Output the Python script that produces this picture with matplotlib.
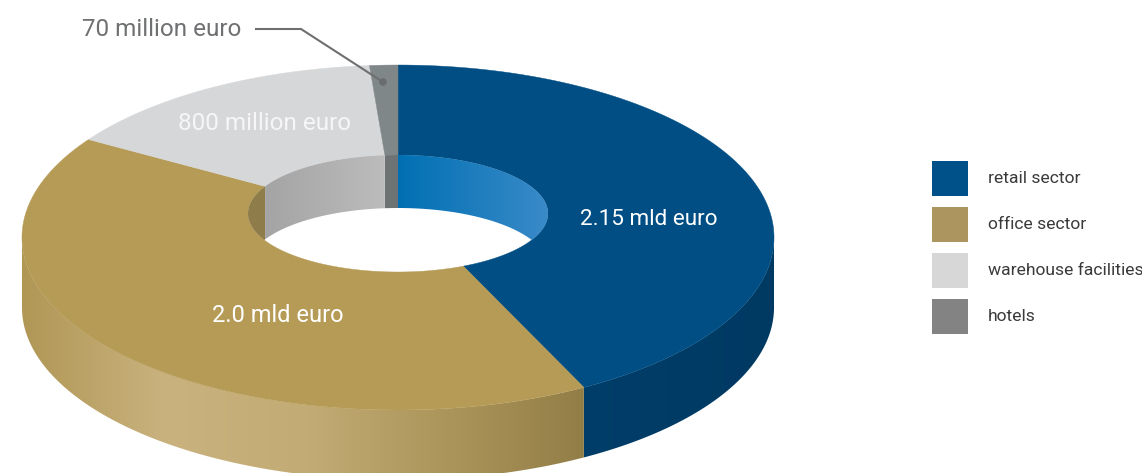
import numpy as np
import matplotlib
matplotlib.use("Agg")
import matplotlib.pyplot as plt
from matplotlib.colors import LinearSegmentedColormap
from matplotlib.patches import Polygon, Rectangle, Circle

categories = ["retail sector", "office sector", "warehouse facilities", "hotels"]
values = [2.15, 2.0, 0.8, 0.07]                 # mld euro
value_labels = ["2.15 mld euro", "2.0 mld euro", "800 million euro", "70 million euro"]
top_colors = ["#004e84", "#b69b56", "#d6d7d9", "#7f8788"]
legend_colors = ["#00508a", "#ad9560", "#d7d7d7", "#838383"]

W, H = 1142, 473
CX = 398
CY = 213                                        # where the ring's radial lines meet
SCALE_X, SCALE_Y, PERSP = 372.2, 169.0, -0.142  # perspective of the outer rim
HOLE_CY, HOLE_RX, HOLE_RY = 213.5, 150, 58.5
OUTER_DEPTH = 70
HOLE_DEPTH = 53

plt.rcParams["font.family"] = ["Roboto", "DejaVu Sans"]

fig = plt.figure(figsize=(W / 100, H / 100), dpi=100)
ax = fig.add_axes([0, 0, 1, 1])


def outer_rim(theta):
    # theta in radians, clockwise from the top of the ring
    x = np.sin(theta)
    y = -np.cos(theta)
    d = 1 + PERSP * y
    return CX + SCALE_X * x / d, CY + SCALE_Y * y / d


def hole_rim(theta):
    return CX + HOLE_RX * np.sin(theta), HOLE_CY - HOLE_RY * np.cos(theta)


def gradient_fill(pts, x0, x1, stops):
    # horizontal gradient clipped to a polygon
    cmap = LinearSegmentedColormap.from_list("g", stops)
    img = ax.imshow(np.linspace(0, 1, 512).reshape(1, -1), cmap=cmap, aspect="auto",
                    extent=(x0, x1, H, 0), interpolation="bilinear", zorder=1)
    img.set_clip_path(Polygon(pts, closed=True, transform=ax.transData))


edges = np.radians(np.cumsum([0] + values) / sum(values) * 360)

# the side wall only shows between the rim's left and right extremes
grid = np.linspace(0, 2 * np.pi, 3601)
right_end = grid[np.argmax(outer_rim(grid)[0])]
left_end = grid[np.argmin(outer_rim(grid)[0])]

retail_side = np.linspace(right_end, edges[1], 120)
office_side = np.linspace(edges[1], left_end, 240)
for theta, x0, x1, stops in [
    (retail_side, 500, 780, ["#003f6b", "#003a63"]),
    (office_side, 20, 600, ["#b09756", "#c9b27e", "#c2ab74", "#ab9459", "#8f7b45"]),
]:
    xs, ys = outer_rim(theta)
    pts = np.column_stack([np.r_[xs, xs[::-1]], np.r_[ys, ys[::-1] + OUTER_DEPTH]])
    gradient_fill(pts, x0, x1, stops)

# top face of the ring
for i in range(len(values)):
    theta = np.linspace(edges[i], edges[i + 1], 200)
    ox, oy = outer_rim(theta)
    ix, iy = hole_rim(theta)
    pts = np.column_stack([np.r_[ox, ix[::-1]], np.r_[oy, iy[::-1]]])
    ax.add_patch(Polygon(pts, closed=True, facecolor=top_colors[i], edgecolor=top_colors[i],
                         linewidth=0.3, zorder=2))

# inside wall of the hole, back half only
hole_walls = [
    (0, ["#0070b3", "#3a8ac8"]),
    (1, ["#8f7d4b", "#8f7d4b"]),
    (2, ["#a4a4a4", "#bcbcbc"]),
    (3, ["#6e7374", "#6e7374"]),
]
for i, stops in hole_walls:
    a0, a1 = edges[i], edges[i + 1]
    if a0 < np.pi / 2:
        a1 = min(a1, np.pi / 2)
    else:
        a0 = max(a0, 3 * np.pi / 2)
    if a0 >= a1:
        continue
    theta = np.linspace(a0, a1, 200)
    xs, ys = hole_rim(theta)
    # the wall is cut where it drops below the near edge of the hole
    lower = np.minimum(ys + HOLE_DEPTH, HOLE_CY + HOLE_RY * np.cos(theta))
    pts = np.column_stack([np.r_[xs, xs[::-1]], np.r_[ys, lower[::-1]]])
    cmap = LinearSegmentedColormap.from_list("w", stops)
    img = ax.imshow(np.linspace(0, 1, 256).reshape(1, -1), cmap=cmap, aspect="auto",
                    extent=(xs.min(), xs.max(), H, 0), zorder=3)
    img.set_clip_path(Polygon(pts, closed=True, transform=ax.transData))

# value labels
ax.text(649, 219, value_labels[0], color="white", fontsize=16.2, ha="center", va="center", zorder=5)
ax.text(278, 315, value_labels[1], color="white", fontsize=17, ha="center", va="center", zorder=5)
ax.text(265, 123, value_labels[2], color="#f6f6f7", fontsize=17.5, ha="center", va="center", zorder=5)
ax.text(162, 30, value_labels[3], color="#6f7072", fontsize=17.5, ha="center", va="center", zorder=5)

# leader line to the hotels slice
ax.plot([256, 301, 383], [29, 29, 82], color="#6f6f6f", linewidth=1.5, zorder=6)
ax.add_patch(Circle((383, 82), 3.8, facecolor="#6a6d6e", edgecolor="none", zorder=6))

# legend
for i, name in enumerate(categories):
    top = 161 + i * 46
    ax.add_patch(Rectangle((932, top), 36, 35, facecolor=legend_colors[i], edgecolor="none", zorder=2))
    ax.text(988, top + 17, name, color="#3a3a3c", fontsize=12.6, ha="left", va="center", zorder=5)

ax.set_xlim(0, W)
ax.set_ylim(H, 0)
ax.axis("off")
fig.savefig("out.png", dpi=100, facecolor="white")
